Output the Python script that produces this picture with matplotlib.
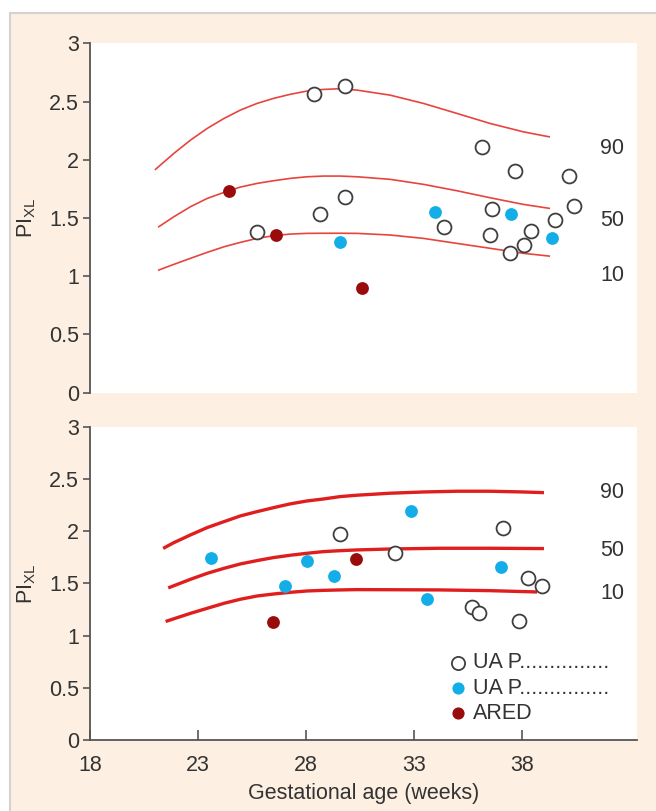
#!/usr/bin/env python3
# -*- coding: utf-8 -*-

import matplotlib
matplotlib.use('Agg')
import matplotlib.pyplot as plt
from matplotlib.patches import Rectangle

plt.rcParams['font.family'] = ['Liberation Sans', 'DejaVu Sans']

# --- top panel: reference curves (weeks, PI_XL) ---
top_x = [21.18, 21.88, 22.65, 23.42, 24.20, 24.96, 25.73, 26.49, 27.26, 28.04, 28.80,
         29.58, 30.35, 31.88, 33.42, 34.97, 36.50, 38.04, 39.24]
top_x90 = [21.03] + top_x[1:]
top_y90 = [1.918, 2.055, 2.169, 2.269, 2.355, 2.427, 2.484, 2.527, 2.562, 2.590, 2.604,
           2.610, 2.598, 2.555, 2.484, 2.398, 2.312, 2.240, 2.197]
top_x50 = top_x
top_y50 = [1.425, 1.511, 1.597, 1.668, 1.720, 1.766, 1.797, 1.820, 1.840, 1.854, 1.860,
           1.860, 1.854, 1.832, 1.789, 1.734, 1.674, 1.617, 1.583]
top_x10 = top_x
top_y10 = [1.053, 1.102, 1.154, 1.205, 1.253, 1.291, 1.325, 1.348, 1.362, 1.368, 1.369,
           1.369, 1.368, 1.354, 1.325, 1.282, 1.240, 1.197, 1.173]

# top panel points
top_open_x = [28.34, 29.80, 36.15, 37.66, 40.15, 36.61, 40.40, 34.38, 36.50, 39.51, 38.38, 38.07, 37.43, 28.65, 29.80, 25.73]
top_open_y = [2.561, 2.633, 2.112, 1.906, 1.857, 1.577, 1.603, 1.425, 1.354, 1.482, 1.385, 1.270, 1.202, 1.534, 1.683, 1.377]
top_cyan_x = [33.96, 37.47, 39.38, 29.58]
top_cyan_y = [1.548, 1.534, 1.328, 1.291]
top_red_x = [24.42, 26.59, 30.59]
top_red_y = [1.734, 1.354, 0.896]

# --- bottom panel: reference curves ---
bot_x = [21.88, 22.65, 23.42, 24.20, 24.96, 25.73, 26.49, 27.26, 28.04, 28.80, 29.58,
         30.35, 31.88, 33.42, 34.97, 36.50, 38.04]
bot_x90 = [21.45] + bot_x + [38.92]
bot_y90 = [1.842, 1.890, 1.964, 2.034, 2.091, 2.146, 2.187, 2.225, 2.261, 2.289, 2.308,
           2.331, 2.344, 2.363, 2.375, 2.382, 2.382, 2.375, 2.369]
bot_x50 = [21.69, 22.65, 23.42, 24.20, 24.96, 25.73, 26.49, 27.26, 28.04, 28.80, 29.58,
           30.35, 31.88, 34.20, 36.50, 38.92]
bot_y50 = [1.462, 1.539, 1.596, 1.644, 1.686, 1.718, 1.747, 1.769, 1.788, 1.804, 1.813,
           1.820, 1.829, 1.836, 1.836, 1.833]
bot_x10 = [21.57, 22.65, 23.42, 24.20, 24.96, 25.73, 26.49, 27.26, 28.04, 28.80, 29.58,
           30.35, 31.88, 34.20, 36.50, 38.60]
bot_y10 = [1.140, 1.213, 1.261, 1.309, 1.348, 1.379, 1.398, 1.414, 1.427, 1.433, 1.437,
           1.440, 1.439, 1.437, 1.430, 1.418]

# bottom panel points
bot_open_x = [29.54, 32.12, 37.12, 38.27, 38.92, 35.69, 36.00, 37.84]
bot_open_y = [1.970, 1.788, 2.034, 1.549, 1.478, 1.277, 1.214, 1.140]
bot_cyan_x = [23.60, 27.00, 28.04, 29.27, 32.85, 33.58, 37.00]
bot_cyan_y = [1.742, 1.478, 1.715, 1.574, 2.197, 1.350, 1.654]
bot_red_x = [26.47, 30.31]
bot_red_y = [1.127, 1.737]

centiles = ['90', '50', '10']
top_lab_y = [2.10, 1.48, 1.01]
bot_lab_y = [2.37, 1.81, 1.40]
xticks = [18, 23, 28, 33, 38]
yticks = [0, 0.5, 1, 1.5, 2, 2.5, 3]
legend_labels = ['UA P...............', 'UA P...............', 'ARED']

CYAN = '#13aee8'
DRED = '#9a0b0c'
OPEN_EDGE = '#3f3f3f'
AXC = '#555555'
TXT = '#333333'
FS = 15.5


def style_axis(ax, show_x):
    ax.set_facecolor('white')
    ax.set_xlim(18, 43.3)
    ax.set_ylim(0, 3)
    for s in ['top', 'right']:
        ax.spines[s].set_visible(False)
    ax.spines['left'].set_color(AXC)
    ax.spines['left'].set_linewidth(1.3)
    ax.set_yticks(yticks)
    ax.set_yticklabels(['0', '0.5', '1', '1.5', '2', '2.5', '3'])
    ax.tick_params(axis='y', direction='out', length=5, width=1.2, color=AXC,
                   labelsize=FS, labelcolor=TXT, pad=3)
    if show_x:
        ax.spines['bottom'].set_color(AXC)
        ax.spines['bottom'].set_linewidth(1.3)
        ax.set_xticks(xticks)
        ax.tick_params(axis='x', direction='in', length=7, width=1.2, color=AXC,
                       labelsize=FS, labelcolor=TXT, pad=11)
    else:
        ax.spines['bottom'].set_visible(False)
        ax.set_xticks([])
    ax.set_ylabel(r'PI$_{\mathregular{XL}}$', fontsize=FS, color=TXT, labelpad=8)


fig = plt.figure(figsize=(6.56, 8.11), dpi=100)
fig.patch.set_facecolor('white')
panel = Rectangle((10 / 656, -0.01), 1, 1.01 - 13 / 811, transform=fig.transFigure,
                  facecolor='#fdf0e2', edgecolor='#d2d2d2', linewidth=1.5, zorder=-10)
fig.add_artist(panel)

ax1 = fig.add_axes([90 / 656, 1 - 392.7 / 811, 547 / 656, 349.4 / 811])
ax2 = fig.add_axes([90 / 656, 1 - 740 / 811, 547 / 656, 313.3 / 811])

# top panel
for xs, ys in [(top_x90, top_y90), (top_x50, top_y50), (top_x10, top_y10)]:
    ax1.plot(xs, ys, color='#e8443e', lw=1.2, zorder=2, solid_joinstyle='round')
ax1.scatter(top_open_x, top_open_y, s=100, facecolor='white', edgecolor=OPEN_EDGE, linewidth=1.3, zorder=3)
ax1.scatter(top_cyan_x, top_cyan_y, s=85, color=CYAN, linewidth=0, zorder=3)
ax1.scatter(top_red_x, top_red_y, s=85, color=DRED, linewidth=0, zorder=3)
for lab, yv in zip(centiles, top_lab_y):
    ax1.text(42.15, yv, lab, ha='center', va='center', fontsize=FS, color=TXT)
style_axis(ax1, False)

# bottom panel
for xs, ys in [(bot_x90, bot_y90), (bot_x50, bot_y50), (bot_x10, bot_y10)]:
    ax2.plot(xs, ys, color='#e01e1e', lw=2.4, zorder=2, solid_joinstyle='round')
h1 = ax2.scatter(bot_open_x, bot_open_y, s=100, facecolor='white', edgecolor=OPEN_EDGE, linewidth=1.3, zorder=3)
h2 = ax2.scatter(bot_cyan_x, bot_cyan_y, s=85, color=CYAN, linewidth=0, zorder=3)
h3 = ax2.scatter(bot_red_x, bot_red_y, s=85, color=DRED, linewidth=0, zorder=3)
for lab, yv in zip(centiles, bot_lab_y):
    ax2.text(42.15, yv, lab, ha='center', va='center', fontsize=FS, color=TXT)
style_axis(ax2, True)
ax2.set_xlabel('Gestational age (weeks)', fontsize=FS, color=TXT, labelpad=5)

leg = ax2.legend([h1, h2, h3], legend_labels, loc='upper left', bbox_to_anchor=(0.655, 0.28),
                 frameon=False, fontsize=FS, handlelength=0.9, handletextpad=0.25,
                 labelspacing=0.2, borderpad=0, borderaxespad=0, markerscale=0.95)
for t in leg.get_texts():
    t.set_color(TXT)

fig.savefig('out.png', dpi=100, facecolor=fig.get_facecolor())
